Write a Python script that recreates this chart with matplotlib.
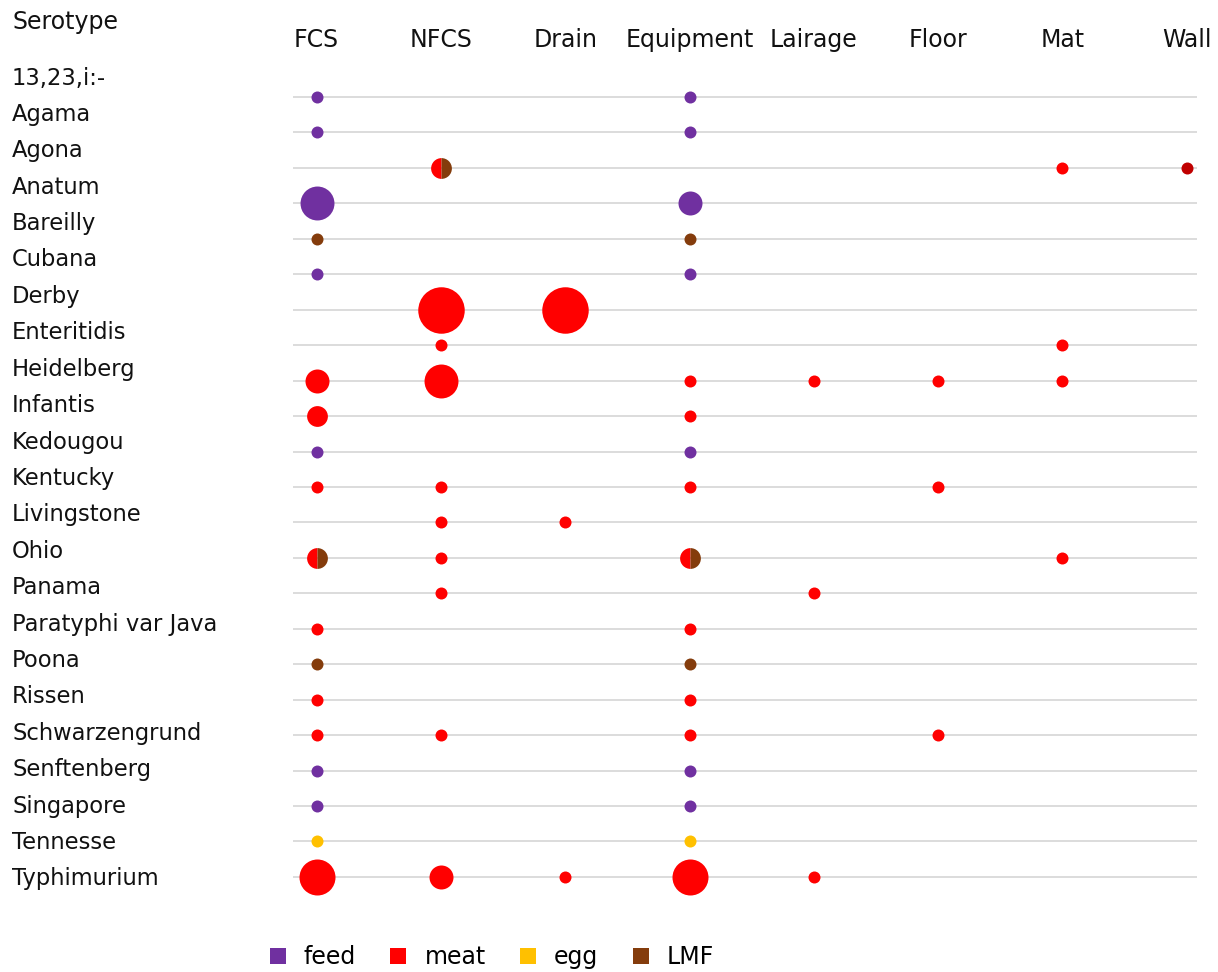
import matplotlib
matplotlib.use("Agg")
import matplotlib.pyplot as plt
from matplotlib.lines import Line2D
import numpy as np

plt.rcParams['font.family'] = ['DejaVu Sans']

serotypes = ["13,23,i:-", "Agama", "Agona", "Anatum", "Bareilly", "Cubana", "Derby",
             "Enteritidis", "Heidelberg", "Infantis", "Kedougou", "Kentucky",
             "Livingstone", "Ohio", "Panama", "Paratyphi var Java", "Poona", "Rissen",
             "Schwarzengrund", "Senftenberg", "Singapore", "Tennesse", "Typhimurium"]
sources = ["FCS", "NFCS", "Drain", "Equipment", "Lairage", "Floor", "Mat", "Wall"]

# one entry per bubble; "meat/LMF" = split marker
obs_serotype = ["13,23,i:-", "13,23,i:-", "Agama", "Agama",
                "Agona", "Agona", "Agona",
                "Anatum", "Anatum", "Bareilly", "Bareilly", "Cubana", "Cubana",
                "Derby", "Derby", "Enteritidis", "Enteritidis",
                "Heidelberg", "Heidelberg", "Heidelberg", "Heidelberg", "Heidelberg", "Heidelberg",
                "Infantis", "Infantis", "Kedougou", "Kedougou",
                "Kentucky", "Kentucky", "Kentucky", "Kentucky",
                "Livingstone", "Livingstone",
                "Ohio", "Ohio", "Ohio", "Ohio",
                "Panama", "Panama", "Paratyphi var Java", "Paratyphi var Java",
                "Poona", "Poona", "Rissen", "Rissen",
                "Schwarzengrund", "Schwarzengrund", "Schwarzengrund", "Schwarzengrund",
                "Senftenberg", "Senftenberg", "Singapore", "Singapore",
                "Tennesse", "Tennesse",
                "Typhimurium", "Typhimurium", "Typhimurium", "Typhimurium", "Typhimurium"]
obs_source = ["FCS", "Equipment", "FCS", "Equipment",
              "NFCS", "Mat", "Wall",
              "FCS", "Equipment", "FCS", "Equipment", "FCS", "Equipment",
              "NFCS", "Drain", "NFCS", "Mat",
              "FCS", "NFCS", "Equipment", "Lairage", "Floor", "Mat",
              "FCS", "Equipment", "FCS", "Equipment",
              "FCS", "NFCS", "Equipment", "Floor",
              "NFCS", "Drain",
              "FCS", "NFCS", "Equipment", "Mat",
              "NFCS", "Lairage", "FCS", "Equipment",
              "FCS", "Equipment", "FCS", "Equipment",
              "FCS", "NFCS", "Equipment", "Floor",
              "FCS", "Equipment", "FCS", "Equipment",
              "FCS", "Equipment",
              "FCS", "NFCS", "Drain", "Equipment", "Lairage"]
obs_count = [1, 1, 1, 1,
             3, 1, 1,
             8, 4, 1, 1, 1, 1,
             15, 15, 1, 1,
             4, 8, 1, 1, 1, 1,
             3, 1, 1, 1,
             1, 1, 1, 1,
             1, 1,
             3, 1, 3, 1,
             1, 1, 1, 1,
             1, 1, 1, 1,
             1, 1, 1, 1,
             1, 1, 1, 1,
             1, 1,
             9, 4, 1, 9, 1]
obs_cat = ["feed", "feed", "feed", "feed",
           "meat/LMF", "meat", "meat (wall)",
           "feed", "feed", "LMF", "LMF", "feed", "feed",
           "meat", "meat", "meat", "meat",
           "meat", "meat", "meat", "meat", "meat", "meat",
           "meat", "meat", "feed", "feed",
           "meat", "meat", "meat", "meat",
           "meat", "meat",
           "meat/LMF", "meat", "meat/LMF", "meat",
           "meat", "meat", "meat", "meat",
           "LMF", "LMF", "meat", "meat",
           "meat", "meat", "meat", "meat",
           "feed", "feed", "feed", "feed",
           "egg", "egg",
           "meat", "meat", "meat", "meat", "meat"]

legend_labels = ["feed", "meat", "egg", "LMF"]
colors = {"feed": "#7030A0", "meat": "#FF0000", "egg": "#FFC000", "LMF": "#843C0C",
          "meat (wall)": "#C00000"}

W, H, DPI = 1218, 972, 100
fig = plt.figure(figsize=(W / DPI, H / DPI), dpi=DPI)
ax = fig.add_axes([0, 0, 1, 1])
ax.axis('off')

# layout (pixels)
col0, colstep = 316.6, 124.3
row0, rowstep = 97.0, 35.45
ax.set_xlim(-col0 / colstep, (W - col0) / colstep)
ax.set_ylim((H - row0) / rowstep, -row0 / rowstep)

xs = {s: i for i, s in enumerate(sources)}
ys = {s: i for i, s in enumerate(serotypes)}

# grid lines
for i in range(len(serotypes)):
    ax.plot([(293 - col0) / colstep, (1197 - col0) / colstep], [i, i],
            color="#D9D9D9", lw=1.3, zorder=1, solid_capstyle='butt')

# bubbles (area proportional to count)
unit_d_px = 12.0
for s, src, c, cat in zip(obs_serotype, obs_source, obs_count, obs_cat):
    d_pt = unit_d_px * np.sqrt(c) * 72 / DPI
    x, y = xs[src], ys[s]
    if "/" in cat:
        a, b = cat.split("/")
        ax.plot([x], [y], marker='o', markersize=d_pt, fillstyle='left',
                markerfacecolor=colors[a], markerfacecoloralt=colors[b],
                markeredgewidth=0, linestyle='none', zorder=3)
    else:
        ax.plot([x], [y], marker='o', markersize=d_pt, color=colors[cat],
                markeredgewidth=0, linestyle='none', zorder=3)

# column headers
for src in sources:
    ax.text(xs[src], (40 - row0) / rowstep, src, ha='center', va='center',
            fontsize=17, color='#111111')

# row labels and title
fig.text(12 / W, 1 - 22 / H, "Serotype", ha='left', va='center', fontsize=17, color='#111111')
lab0, labstep = 78.0, 36.4
for i, s in enumerate(serotypes):
    fig.text(12 / W, 1 - (lab0 + i * labstep) / H, s, ha='left', va='center',
             fontsize=16.3, color='#111111')

# legend
handles = [Line2D([0], [0], marker='s', linestyle='none', markersize=11.5,
                  markerfacecolor=colors[l], markeredgewidth=0) for l in legend_labels]
fig.legend(handles, legend_labels, loc='center', bbox_to_anchor=(490 / W, 1 - 957 / H),
           ncol=4, frameon=False, fontsize=17, handletextpad=0.6, columnspacing=1.3,
           handlelength=1.0)

fig.savefig("out.png", dpi=DPI)
